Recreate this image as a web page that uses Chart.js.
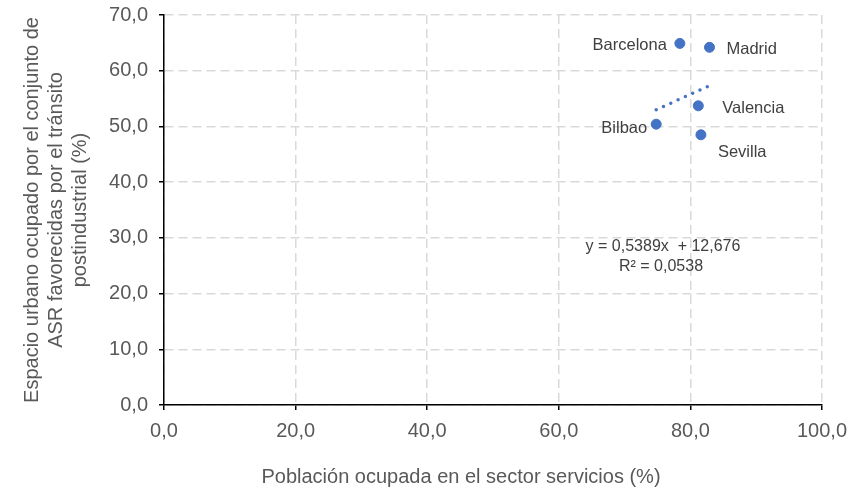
<!DOCTYPE html>
<html>
<head>
<meta charset="utf-8">
<script src="https://cdn.jsdelivr.net/npm/chart.js@4/dist/chart.umd.min.js"></script>
<style>
body { margin: 0; background: #fff; }
#wrap { width: 864px; height: 489px; position: relative; }
</style>
</head>
<body>
<div id="wrap"><canvas id="scatterChart"></canvas></div>
<script>

// datos
var ciudades = ['Barcelona', 'Madrid', 'Valencia', 'Bilbao', 'Sevilla'];
var servicios = [78.4, 82.9, 81.2, 74.8, 81.6];
var espacio = [64.9, 64.2, 53.7, 50.4, 48.5];

// linea de tendencia (extremos leidos)
var tendX = [74.8, 82.9];
var tendY = [53.0, 57.3];
var ecuacion = ['y = 0,5389x  + 12,676', 'R\u00b2 = 0,0538'];

var xTicks = [0, 20, 40, 60, 80, 100];
var yTicks = [0, 10, 20, 30, 40, 50, 60, 70];

var yTitle = ['Espacio urbano ocupado por el conjunto de', 'ASR favorecidas por el tr\u00e1nsito', 'postindustrial (%)'];
var xTitle = 'Poblaci\u00f3n ocupada en el sector servicios (%)';

function coma(v){
	return Number(v).toFixed(1).replace('.', ',');
}

var puntos = [];
for (var i = 0; i < ciudades.length; i++) {
	puntos.push({x: servicios[i], y: espacio[i]});
}
var tendencia = [];
for (var j = 0; j < tendX.length; j++) {
	tendencia.push({x: tendX[j], y: tendY[j]});
}

var fuente = '"Liberation Sans", Arial, sans-serif';

// donde va cada etiqueta respecto al punto
var etiquetaPos = {
	'Barcelona': {dx: -13, dy: 2, align: 'right'},
	'Madrid': {dx: 17, dy: 2, align: 'left'},
	'Valencia': {dx: 24, dy: 3, align: 'left'},
	'Bilbao': {dx: -9, dy: 4, align: 'right'},
	'Sevilla': {dx: 17, dy: 18, align: 'left'}
};

var etiquetas = {
	id: 'etiquetas',
	afterDatasetsDraw: function(chart) {
		var ctx = chart.ctx;
		var xs = chart.scales.x, ys = chart.scales.y;
		ctx.save();
		ctx.font = '16.5px ' + fuente;
		ctx.fillStyle = '#404040';
		ctx.textBaseline = 'middle';
		for (var i = 0; i < ciudades.length; i++) {
			var p = etiquetaPos[ciudades[i]];
			ctx.textAlign = p.align;
			ctx.fillText(ciudades[i], xs.getPixelForValue(servicios[i]) + p.dx, ys.getPixelForValue(espacio[i]) + p.dy);
		}
		// ecuacion de la tendencia
		ctx.font = '16px ' + fuente;
		ctx.textAlign = 'center';
		ctx.fillText(ecuacion[0], 663, 247);
		ctx.fillText(ecuacion[1], 661, 267);

		// titulo del eje x (no esta centrado en el area del grafico)
		ctx.font = '20px ' + fuente;
		ctx.fillStyle = '#595959';
		ctx.fillText(xTitle, 461, 477);
		ctx.restore();
	}
};

var ejeFont = {family: fuente, size: 20};
var tituloFont = {family: fuente, size: 20, lineHeight: 1.2};

var ctx = document.getElementById('scatterChart');
var chart = new Chart(ctx, {
	type: 'scatter',
	data: {
		datasets: [{
			label: 'ciudades',
			data: puntos,
			backgroundColor: '#4472C4',
			borderColor: '#4472C4',
			pointRadius: 5,
			pointHoverRadius: 5,
			order: 1
		}, {
			type: 'line',
			label: 'tendencia',
			data: tendencia,
			borderColor: '#4472C4',
			borderWidth: 3.5,
			borderDash: [0, 8],
			borderCapStyle: 'round',
			pointRadius: 0,
			fill: false,
			order: 2
		}]
	},
	options: {
		responsive: true,
		maintainAspectRatio: false,
		animation: false,
		events: [],
		layout: {
			padding: {left: 0, right: 42, top: 15, bottom: 0}
		},
		plugins: {
			legend: {display: false},
			tooltip: {enabled: false}
		},
		scales: {
			x: {
				type: 'linear',
				min: 0,
				max: 100,
				afterBuildTicks: function(axis){
					axis.ticks = xTicks.map(function(v){ return {value: v}; });
				},
				afterFit: function(axis){
					axis.height = 84;
					axis.paddingLeft = 0;
					axis.paddingRight = 0;
				},
				ticks: {
					color: '#595959',
					font: ejeFont,
					padding: 9,
					callback: function(v){ return coma(v); }
				},
				grid: {
					color: '#D9D9D9',
					lineWidth: 1.5,
					tickColor: '#000',
					tickLength: 5,
					tickWidth: 1.5,
					tickBorderDash: []
				},
				border: {
					display: true,
					color: '#000',
					width: 1.5,
					dash: [9, 5]
				},
				title: {display: false}
			},
			y: {
				type: 'linear',
				min: 0,
				max: 70,
				afterBuildTicks: function(axis){
					axis.ticks = yTicks.map(function(v){ return {value: v}; });
				},
				afterFit: function(axis){
					axis.width = 164;
					axis.paddingTop = 0;
					axis.paddingBottom = 0;
				},
				ticks: {
					color: '#595959',
					font: ejeFont,
					padding: 11,
					callback: function(v){ return coma(v); }
				},
				grid: {
					color: '#D9D9D9',
					lineWidth: 1.5,
					tickColor: '#000',
					tickLength: 5,
					tickWidth: 1.5,
					tickBorderDash: []
				},
				border: {
					display: true,
					color: '#000',
					width: 1.5,
					dash: [9, 5]
				},
				title: {
					display: true,
					text: yTitle,
					color: '#595959',
					font: tituloFont,
					padding: {top: 20, bottom: 0}
				}
			}
		}
	},
	plugins: [etiquetas]
});

</script>
</body>
</html>
